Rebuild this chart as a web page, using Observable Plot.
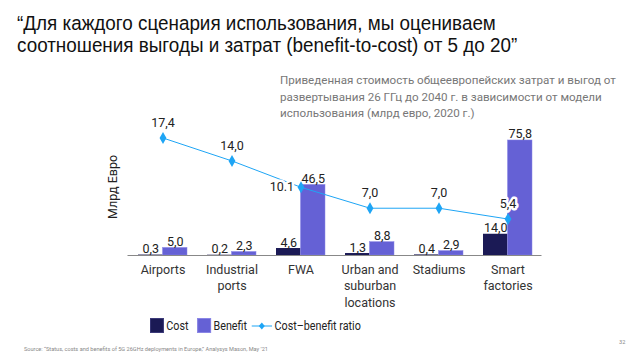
<!DOCTYPE html>
<html><head><meta charset="utf-8">
<script src="https://cdn.jsdelivr.net/npm/d3@7"></script>
<script src="https://cdn.jsdelivr.net/npm/@observablehq/plot@0.6"></script>
<style>
body{margin:0;background:#fff;}
#wrap{position:relative;width:640px;height:358px;overflow:hidden;font-family:Roboto,"Liberation Sans",sans-serif;}
#chart{position:absolute;left:0;top:0;}
.abs{position:absolute;}
#title{left:17px;top:12px;font-family:"Liberation Sans","Arial",sans-serif;font-size:20.5px;line-height:22px;color:#111;white-space:nowrap;transform:scaleX(0.92);transform-origin:0 0;}
#subtitle{left:280px;top:72px;font-size:11.6px;line-height:16.5px;color:#777;white-space:nowrap;}
#ylab{left:112px;top:187px;transform:translate(-50%,-50%) rotate(-90deg);font-size:12.5px;color:#222;white-space:nowrap;}
#legend{left:150px;top:318px;display:flex;align-items:center;font-size:12.5px;color:#222;white-space:nowrap;transform:scaleX(0.86);transform-origin:0 0;}
.sw{width:16px;height:15px;display:inline-block;margin-right:3px;box-sizing:border-box;border:1px solid #3c3a7a;}
#source{left:24px;top:346px;font-size:5.6px;color:#888;white-space:nowrap;}
#page{left:619px;top:339px;font-size:5.6px;color:#888;}
</style></head>
<body>
<div id="wrap">
<div id="chart"></div>
<div id="title" class="abs">“Для каждого сценария использования, мы оцениваем<br>соотношения выгоды и затрат (benefit-to-cost) от 5 до 20”</div>
<div id="subtitle" class="abs">Приведенная стоимость общеевропейских затрат и выгод от<br>развертывания 26 ГГц до 2040 г. в зависимости от модели<br>использования (млрд евро, 2020 г.)</div>
<div id="ylab" class="abs">Млрд Евро</div>
<div id="legend" class="abs"></div>
<div id="source" class="abs">Source: “Status, costs and benefits of 5G 26GHz deployments in Europe,” Analysys Mason, May ’21</div>
<div id="page" class="abs">32</div>
</div>
<script>
const categories = ["Airports","Industrial ports","FWA","Urban and suburban locations","Stadiums","Smart factories"];
const tickLabels = ["Airports","Industrial\nports","FWA","Urban and\nsuburban\nlocations","Stadiums","Smart\nfactories"];
const cost = [0.3,0.2,4.6,1.3,0.4,14.0];
const benefit = [5.0,2.3,46.5,8.8,2.9,75.8];
const ratio = [17.4,14.0,10.1,7.0,7.0,5.4];
const ratioLabels = ["17,4","14,0","10.1","7,0","7,0","5,4"];
const seriesNames = ["Cost","Benefit","Cost\u2013benefit ratio"];

const COST = "#1b1a55", BENEFIT = "#6561d5", LINE = "#1ea5f5";
const K = 4.45; // ratio drawn on a secondary scale sharing the baseline
const fmt = v => d3.format(".1f")(v).replace(".", ",");

const costData = categories.map((c,i)=>({cat:c, v:cost[i]}));
const benefitData = categories.map((c,i)=>({cat:c, v:benefit[i]}));
const ratioData = categories.map((c,i)=>({cat:c, r:ratio[i], label:ratioLabels[i]}));

const chart = Plot.plot({
  width:640, height:358,
  marginLeft:127.5, marginRight:98.5, marginTop:133.6, marginBottom:103,
  style:{background:"transparent", fontFamily:"Roboto, sans-serif"},
  x:{domain:categories, padding:0},
  y:{domain:[0,80], axis:null},
  marks:[
    Plot.barY(costData,{x:"cat", y:"v", fill:COST, insetLeft:10, insetRight:34.5}),
    Plot.barY(benefitData,{x:"cat", y:"v", fill:BENEFIT, stroke:"#8a86e6", strokeWidth:0.5, insetLeft:34.5, insetRight:10}),
    Plot.ruleY([0],{stroke:"#888", strokeWidth:1}),
    Plot.text(costData,{x:"cat", y:"v", text:d=>fmt(d.v), dx:-12.25, dy:-2, lineAnchor:"bottom", fontSize:12.5, fill:"#222"}),
    Plot.text(benefitData,{x:"cat", y:"v", text:d=>fmt(d.v), dx:12.25, dy:-2, lineAnchor:"bottom", fontSize:12.5, fill:"#222"}),
    Plot.line(ratioData,{x:"cat", y:d=>d.r*K, stroke:LINE, strokeWidth:1}),
    Plot.dot(ratioData,{x:"cat", y:d=>d.r*K, symbol:"diamond", r:3.6, fill:LINE, stroke:"none"}),
    Plot.text(ratioData.filter(d=>d.cat!=="FWA"),{x:"cat", y:d=>d.r*K, text:"label", dy:-15, fontSize:12.5, fill:"#222", stroke:"white", strokeWidth:5}),
    Plot.text(ratioData.filter(d=>d.cat==="FWA"),{x:"cat", y:d=>d.r*K, text:"label", dx:-7, textAnchor:"end", fontSize:12.5, fill:"#222", stroke:"white", strokeWidth:5}),
    Plot.axisX({tickSize:0, tickPadding:7, fontSize:12.5, lineHeight:1.3, fill:"#333",
      tickFormat:d=>tickLabels[categories.indexOf(d)], label:null})
  ]
});
document.getElementById("chart").appendChild(chart);

const legend = document.getElementById("legend");
legend.innerHTML =
  `<span class="sw" style="background:${COST}"></span><span style="margin-right:10px">${seriesNames[0]}</span>`+
  `<span class="sw" style="background:${BENEFIT};border-color:#8a86e6"></span><span style="margin-right:5px">${seriesNames[1]}</span>`+
  `<svg width="24" height="10" style="margin-right:3px"><line x1="0" y1="5" x2="24" y2="5" stroke="${LINE}" stroke-width="1.2"/><path d="M12 1.5L15.5 5L12 8.5L8.5 5Z" fill="${LINE}"/></svg><span>${seriesNames[2]}</span>`;
</script>
</body></html>
